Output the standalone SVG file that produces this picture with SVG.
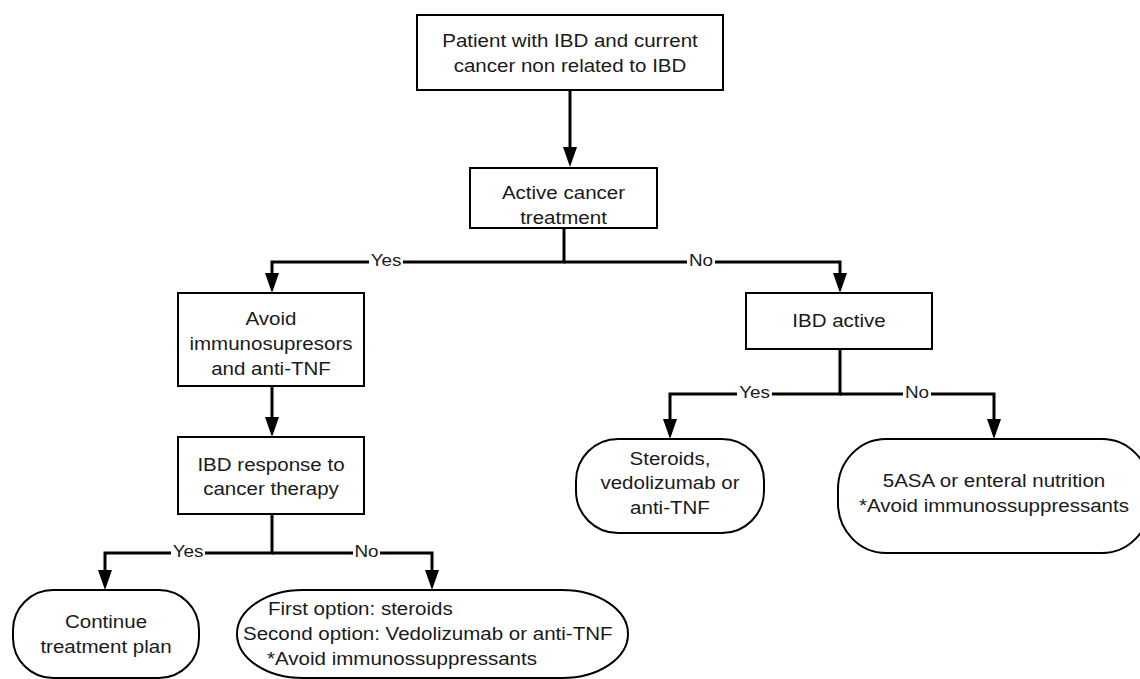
<svg xmlns="http://www.w3.org/2000/svg" width="1140" height="679" viewBox="0 0 1140 679">
<style>
.box{fill:#fff;stroke:#000;stroke-width:2}
.t{font-family:"Liberation Sans",Arial,sans-serif;font-size:18.5px;fill:#1a1a1a;text-anchor:middle}
.ts{font-family:"Liberation Sans",Arial,sans-serif;font-size:18.5px;fill:#1a1a1a;text-anchor:start}
.lbl{font-family:"Liberation Sans",Arial,sans-serif;font-size:17px;fill:#1a1a1a;text-anchor:middle}
.c{fill:none;stroke:#000;stroke-width:3;stroke-linejoin:miter}
.lb{fill:#fff}
</style>
<defs>
<marker id="ah" markerUnits="userSpaceOnUse" markerWidth="20" markerHeight="14" viewBox="0 0 20 14" refX="15" refY="7" orient="auto">
<path d="M0,0 L20,7 L0,14 Z" fill="#000"/>
</marker>
</defs>
<rect width="1140" height="679" fill="#fff"/>
<g id="connectors">
<path class="c" d="M570,90 V162" marker-end="url(#ah)"/>
<path class="c" d="M564,228 V262 H272 V288" marker-end="url(#ah)"/>
<path class="c" d="M564,262 H840 V288" marker-end="url(#ah)"/>
<path class="c" d="M272,386 V432" marker-end="url(#ah)"/>
<path class="c" d="M272,514 V553 H105 V585" marker-end="url(#ah)"/>
<path class="c" d="M272,553 H432 V585" marker-end="url(#ah)"/>
<path class="c" d="M840,349 V394 H670 V434" marker-end="url(#ah)"/>
<path class="c" d="M840,394 H994 V434" marker-end="url(#ah)"/>
<rect class="lb" x="369" y="254" width="34" height="16"/>
<text class="lbl" transform="translate(386,265.5) scale(1.11,1)">Yes</text>
<rect class="lb" x="687" y="254" width="28" height="16"/>
<text class="lbl" transform="translate(701,266) scale(1.11,1)">No</text>
<rect class="lb" x="737" y="386" width="35" height="16"/>
<text class="lbl" transform="translate(754.5,398) scale(1.11,1)">Yes</text>
<rect class="lb" x="903" y="386" width="28" height="16"/>
<text class="lbl" transform="translate(917,398) scale(1.11,1)">No</text>
<rect class="lb" x="171" y="545" width="34" height="16"/>
<text class="lbl" transform="translate(188,557) scale(1.11,1)">Yes</text>
<rect class="lb" x="353" y="545" width="27" height="16"/>
<text class="lbl" transform="translate(366.5,557) scale(1.11,1)">No</text>
</g>
<g id="n-patient">
<rect class="box" x="417" y="15" width="306" height="75"/>
<text class="t" transform="translate(570,47) scale(1.11,1)">Patient with IBD and current</text>
<text class="t" transform="translate(570,72) scale(1.11,1)">cancer non related to IBD</text>
</g>
<g id="n-active-cancer">
<rect class="box" x="470" y="168" width="187" height="60"/>
<text class="t" transform="translate(563.5,199) scale(1.11,1)">Active cancer</text>
<text class="t" transform="translate(563.5,224) scale(1.11,1)">treatment</text>
</g>
<g id="n-avoid">
<rect class="box" x="178" y="293" width="186" height="93"/>
<text class="t" transform="translate(271,325) scale(1.11,1)">Avoid</text>
<text class="t" transform="translate(271,350) scale(1.11,1)">immunosupresors</text>
<text class="t" transform="translate(271,375) scale(1.11,1)">and anti-TNF</text>
</g>
<g id="n-ibd-response">
<rect class="box" x="178" y="437" width="186" height="77"/>
<text class="t" transform="translate(271,471) scale(1.11,1)">IBD response to</text>
<text class="t" transform="translate(271,495) scale(1.11,1)">cancer therapy</text>
</g>
<g id="n-ibd-active">
<rect class="box" x="746" y="293" width="186" height="56"/>
<text class="t" transform="translate(839,327) scale(1.11,1)">IBD active</text>
</g>
<g id="n-steroids">
<rect class="box" x="576" y="439" width="188" height="94" rx="42" ry="42"/>
<text class="t" transform="translate(670,465) scale(1.11,1)">Steroids,</text>
<text class="t" transform="translate(670,489) scale(1.11,1)">vedolizumab or</text>
<text class="t" transform="translate(670,514) scale(1.11,1)">anti-TNF</text>
</g>
<g id="n-5asa">
<rect class="box" x="838" y="439" width="312" height="114" rx="48" ry="50"/>
<text class="t" transform="translate(994,487) scale(1.11,1)">5ASA or enteral nutrition</text>
<text class="t" transform="translate(994,512) scale(1.11,1)">*Avoid immunossuppressants</text>
</g>
<g id="n-continue">
<rect class="box" x="13" y="590" width="186" height="88" rx="40" ry="40"/>
<text class="t" transform="translate(106,628) scale(1.11,1)">Continue</text>
<text class="t" transform="translate(106,653) scale(1.11,1)">treatment plan</text>
</g>
<g id="n-first-option">
<rect class="box" x="237" y="590" width="391" height="88" rx="66" ry="44"/>
<text class="ts" transform="translate(268,615) scale(1.11,1)">First option: steroids</text>
<text class="ts" transform="translate(243,640) scale(1.11,1)">Second option: Vedolizumab or anti-TNF</text>
<text class="ts" transform="translate(267,665) scale(1.11,1)">*Avoid immunossuppressants</text>
</g>
</svg>
